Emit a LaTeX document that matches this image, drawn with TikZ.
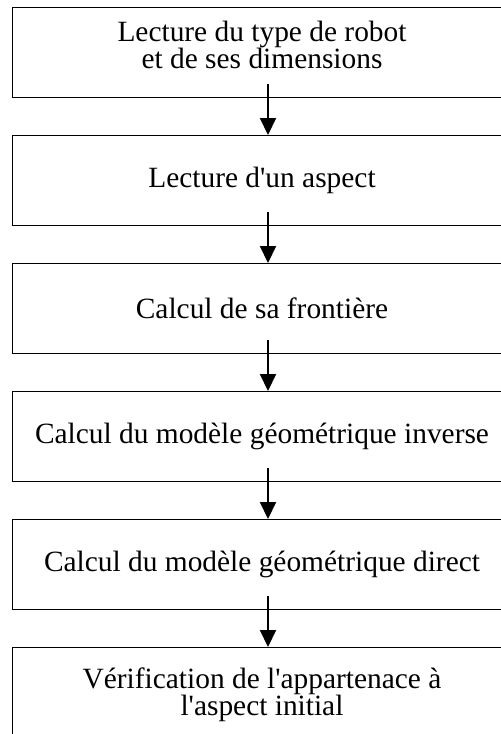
\documentclass[tikz,border=0pt]{standalone}
\usepackage{fontspec}
\setmainfont{Liberation Serif}
\usetikzlibrary{arrows.meta, positioning}

\begin{document}
\begin{tikzpicture}[
    etape/.style={rectangle, draw, line width=0.5pt, minimum width=250pt, minimum height=45pt, inner sep=0pt, outer sep=0pt, align=center, font=\fontsize{14.7}{13.5}\selectfont},
    fleche/.style={-{Triangle[length=8.5pt, width=8pt]}, line width=1pt},
    node distance=19pt,
    ]
\useasboundingbox (0,0) rectangle (250.5pt,-367pt);
\clip (0,0) rectangle (250.5pt,-367pt);

\node[etape, text depth=7pt, anchor=north] (robot) at (131pt,-3.5pt) {Lecture du type de robot\\et de ses dimensions};
\node[etape, below=of robot] (aspect) {Lecture d\textquotesingle un aspect};
\node[etape, below=of aspect] (frontiere) {Calcul de sa frontière};
\node[etape, below=of frontiere] (inverse) {Calcul du modèle géométrique inverse};
\node[etape, below=of inverse] (direct) {Calcul du modèle géométrique direct};
\node[etape, text depth=0pt, below=of direct] (verif) {Vérification de l\textquotesingle appartenace à\\l\textquotesingle aspect initial};

% Add arrows
\draw[fleche] ([xshift=3pt, yshift=6.5pt]robot.south) -- ([xshift=3pt]aspect.north);
\draw[fleche] ([xshift=3pt, yshift=6.5pt]aspect.south) -- ([xshift=3pt]frontiere.north);
\draw[fleche] ([xshift=3pt, yshift=6.5pt]frontiere.south) -- ([xshift=3pt]inverse.north);
\draw[fleche] ([xshift=3pt, yshift=6.5pt]inverse.south) -- ([xshift=3pt]direct.north);
\draw[fleche] ([xshift=3pt, yshift=6.5pt]direct.south) -- ([xshift=3pt]verif.north);

\end{tikzpicture}
\end{document}
